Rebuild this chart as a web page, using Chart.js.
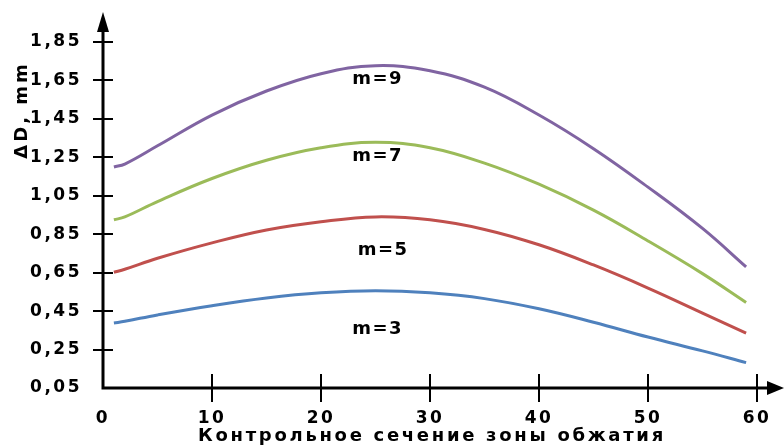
<!DOCTYPE html>
<html>
<head>
<meta charset="utf-8">
<script src="https://cdn.jsdelivr.net/npm/chart.js@4"></script>
<style>
html, body { margin: 0; padding: 0; background: #fff; }
#wrap { width: 784px; height: 446px; }
</style>
</head>
<body>
<div id="wrap"><canvas id="chart"></canvas></div>
<script>
// control sections along the reduction zone
var xValues = [1, 2, 5, 10, 15, 20, 25, 30, 35, 40, 45, 50, 55, 59];

// ΔD, mm for each m
var m3 = [0.388, 0.397, 0.43, 0.478, 0.518, 0.545, 0.556, 0.545, 0.515, 0.462, 0.392, 0.315, 0.243, 0.182];
var m5 = [0.652, 0.668, 0.725, 0.805, 0.872, 0.915, 0.94, 0.925, 0.875, 0.795, 0.69, 0.57, 0.44, 0.335];
var m7 = [0.925, 0.94, 1.02, 1.14, 1.235, 1.30, 1.328, 1.30, 1.22, 1.11, 0.975, 0.815, 0.645, 0.495];
var m9 = [1.20, 1.215, 1.31, 1.47, 1.595, 1.685, 1.727, 1.70, 1.615, 1.47, 1.295, 1.095, 0.88, 0.68];

var yTicks = [0.05, 0.25, 0.45, 0.65, 0.85, 1.05, 1.25, 1.45, 1.65, 1.85];
var xTicks = [0, 10, 20, 30, 40, 50, 60];

// curve names and where they sit (data units)
var curveNames = ['m=3', 'm=5', 'm=7', 'm=9'];
var nameX = [25.2, 25.7, 25.2, 25.2];
var nameY = [0.355, 0.765, 1.255, 1.655];

var xTitle = 'Контрольное сечение зоны обжатия';
var yTitle = 'ΔD, mm';

function toPoints(ys){
	var pts = [];
	for (var i = 0; i < xValues.length; i++){
		pts.push({x: xValues[i], y: ys[i]});
	}
	return pts;
}

function fmt(v){
	return v.toFixed(2).replace('.', ',');
}

var FONT = 'DejaVu Sans';

var spacingPlugin = {
	id: 'spacing',
	beforeLayout: function(chart){ chart.ctx.letterSpacing = '2.5px'; },
	beforeDraw: function(chart){ chart.ctx.letterSpacing = '2.5px'; }
};

var axesPlugin = {
	id: 'axesArrows',
	afterDraw: function(chart){
		var ctx = chart.ctx;
		var xs = chart.scales.x, ys = chart.scales.y;
		var x0 = xs.getPixelForValue(0);
		var y0 = ys.getPixelForValue(yTicks[0]);
		ctx.save();
		ctx.strokeStyle = '#000';
		ctx.fillStyle = '#000';
		// axis lines
		ctx.lineWidth = 3;
		ctx.beginPath();
		ctx.moveTo(x0, y0 + 1.5);
		ctx.lineTo(x0, 30);
		ctx.moveTo(x0 - 1.5, y0);
		ctx.lineTo(770, y0);
		ctx.stroke();
		// arrow heads
		ctx.beginPath();
		ctx.moveTo(x0, 12);
		ctx.lineTo(x0 - 6, 32);
		ctx.lineTo(x0 + 6, 32);
		ctx.closePath();
		ctx.fill();
		ctx.beginPath();
		ctx.moveTo(784, y0);
		ctx.lineTo(767, y0 - 7);
		ctx.lineTo(767, y0 + 7);
		ctx.closePath();
		ctx.fill();
		// tick marks crossing the axes
		ctx.lineWidth = 2;
		ctx.beginPath();
		for (var i = 1; i < yTicks.length; i++){
			var py = Math.round(ys.getPixelForValue(yTicks[i]));
			ctx.moveTo(x0 - 10, py);
			ctx.lineTo(x0 + 10, py);
		}
		for (var j = 1; j < xTicks.length; j++){
			var px = Math.round(xs.getPixelForValue(xTicks[j]));
			ctx.moveTo(px, y0 - 14);
			ctx.lineTo(px, y0 + 14);
		}
		ctx.stroke();

		// curve names
		ctx.font = 'bold 18px "' + FONT + '"';
		ctx.letterSpacing = '1.5px';
		ctx.textAlign = 'center';
		ctx.textBaseline = 'middle';
		for (var k = 0; k < curveNames.length; k++){
			ctx.fillText(curveNames[k], xs.getPixelForValue(nameX[k]), ys.getPixelForValue(nameY[k]));
		}

		// axis titles
		ctx.letterSpacing = '2.7px';
		ctx.textBaseline = 'alphabetic';
		ctx.fillText(xTitle, (chart.chartArea.left + chart.chartArea.right) / 2 + 2, 441);
		ctx.letterSpacing = '3px';
		ctx.translate(27, 110);
		ctx.rotate(-Math.PI / 2);
		ctx.fillText(yTitle, 0, 0);
		ctx.restore();
	}
};

function makeSet(label, ys, color){
	return {
		label: label,
		data: toPoints(ys),
		borderColor: color,
		backgroundColor: color,
		borderWidth: 3,
		pointRadius: 0,
		fill: false,
		tension: 0.4
	};
}

var ctx = document.getElementById('chart').getContext('2d');
var myChart = new Chart(ctx, {
	type: 'line',
	data: {
		datasets: [
			makeSet('m=3', m3, '#4F81BD'),
			makeSet('m=5', m5, '#C0504D'),
			makeSet('m=7', m7, '#9BBB59'),
			makeSet('m=9', m9, '#8064A2')
		]
	},
	options: {
		responsive: true,
		maintainAspectRatio: false,
		animation: false,
		layout: { padding: { top: 42, right: 27, left: 0, bottom: 0 } },
		plugins: { legend: { display: false }, tooltip: { enabled: false } },
		scales: {
			x: {
				type: 'linear',
				min: 0,
				max: 60,
				afterBuildTicks: function(scale){
					scale.ticks = xTicks.map(function(v){ return {value: v}; });
				},
				afterFit: function(scale){ scale.height = 58; },
				grid: { display: false },
				border: { display: false },
				ticks: {
					padding: 12,
					color: '#000',
					font: { family: FONT, size: 17, weight: 'bold' },
					maxRotation: 0,
					callback: function(v){ return String(v); }
				}
			},
			y: {
				type: 'linear',
				min: 0.05,
				max: 1.85,
				afterBuildTicks: function(scale){
					scale.ticks = yTicks.map(function(v){ return {value: v}; });
				},
				afterFit: function(scale){ scale.width = 103; },
				grid: { display: false },
				border: { display: false },
				ticks: {
					padding: 13,
					color: '#000',
					font: { family: FONT, size: 17, weight: 'bold' },
					callback: function(v){ return fmt(v); }
				}
			}
		}
	},
	plugins: [spacingPlugin, axesPlugin]
});
</script>
</body>
</html>
